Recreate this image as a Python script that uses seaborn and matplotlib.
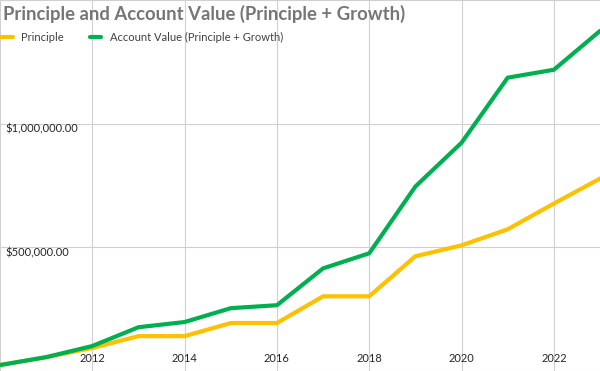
import numpy as np
import pandas as pd
import matplotlib
matplotlib.use('Agg')
import matplotlib.pyplot as plt
import seaborn as sns

# values
years = [2010, 2011, 2012, 2013, 2014, 2015, 2016, 2017, 2018, 2019, 2020, 2021, 2022, 2023]
principle = [24000, 56000, 93000, 141000, 141000, 194000, 194000, 302000, 302000, 464000, 508000, 573000, 677000, 778000]
account_value = [24000, 56000, 101000, 177000, 198000, 254000, 266000, 415000, 476000, 746000, 923000, 1186000, 1218000, 1375000]

series_names = ['Principle', 'Account Value (Principle + Growth)']
series_colors = ['#FFC000', '#00B050']

y_ticks = [0, 500000, 1000000, 1500000]
y_tick_labels = ['', '$500,000.00', '$1,000,000.00', '']
x_ticks = [2010, 2012, 2014, 2016, 2018, 2020, 2022]
x_tick_labels = ['', '2012', '2014', '2016', '2018', '2020', '2022']

df = pd.DataFrame({
    'year': years * 2,
    'value': principle + account_value,
    'series': [series_names[0]] * len(years) + [series_names[1]] * len(years),
})

sns.set_style('white')
plt.rcParams['font.family'] = ['Lato', 'DejaVu Sans']

fig = plt.figure(figsize=(6, 3.71), dpi=100)
ax = fig.add_axes([0, 0, 1, 1])

sns.lineplot(data=df, x='year', y='value', hue='series', palette=series_colors,
             linewidth=3, ax=ax, legend=True)

ax.set_xlim(2010, 2023)
ax.set_ylim(0, 1500000)
ax.set_xticks(x_ticks)
ax.set_xticklabels(x_tick_labels)
ax.set_yticks(y_ticks)
ax.set_yticklabels(y_tick_labels)
ax.set_xlabel('')
ax.set_ylabel('')
ax.grid(True, color='#D0D0D0', linewidth=0.8)
ax.set_axisbelow(True)
for s in ax.spines.values():
    s.set_visible(False)

ax.tick_params(axis='x', length=0, pad=-13, labelsize=8, labelcolor='#262626')
ax.tick_params(axis='y', length=0, pad=-4, labelsize=8, labelcolor='#262626')
for lbl in ax.get_yticklabels():
    lbl.set_horizontalalignment('left')
    lbl.set_verticalalignment('top')

handles, labels = ax.get_legend_handles_labels()
ax.legend(handles, labels, loc='upper left', bbox_to_anchor=(-0.005, 0.925), ncol=2,
          frameon=False, handlelength=1.0, handletextpad=0.8, columnspacing=2.3,
          fontsize=8, labelcolor='#404040', borderaxespad=0)

fig.text(0.005, 0.988, 'Principle and Account Value (Principle + Growth)',
         ha='left', va='top', fontsize=13.3, fontweight='bold', color='#767676')

fig.savefig('out.png', dpi=100)
